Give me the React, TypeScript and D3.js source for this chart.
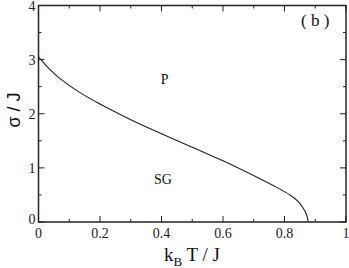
import React, { useEffect, useRef } from "react";
import * as d3 from "d3";

// phase boundary sigma_c(T)
const temps = [0, 0.035, 0.07, 0.135, 0.2, 0.3, 0.4, 0.5, 0.6, 0.72, 0.775, 0.818, 0.845, 0.861, 0.872, 0.877];
const sigmas = [3.05, 2.83, 2.65, 2.39, 2.18, 1.89, 1.63, 1.38, 1.13, 0.8, 0.64, 0.5, 0.376, 0.254, 0.13, 0];

const xTicks = [0, 0.2, 0.4, 0.6, 0.8, 1];
const xMinor = [0.1, 0.3, 0.5, 0.7, 0.9];
const yTicks = [0, 1, 2, 3, 4];
const yMinor = [0.5, 1.5, 2.5, 3.5];

const W = 349;
const H = 268;
const margin = { top: 5.5, right: 3, bottom: 46, left: 38.5 };
const serif = "serif";

export default function App() {
  const ref = useRef<SVGSVGElement>(null);

  useEffect(() => {
    if (!ref.current) return;
    const svg = d3.select(ref.current);
    svg.selectAll("*").remove();

    const x = d3.scaleLinear().domain([0, 1]).range([margin.left, W - margin.right]);
    const y = d3.scaleLinear().domain([0, 4]).range([H - margin.bottom, margin.top]);
    const stroke = "#222";

    const g = svg.append("g");

    // ticks on all four sides, pointing inward
    const tick = (pos: number, len: number, side: string) => {
      const l = g.append("line").attr("stroke", stroke).attr("stroke-width", 1);
      if (side === "b") l.attr("x1", x(pos)).attr("x2", x(pos)).attr("y1", y(0)).attr("y2", y(0) - len);
      if (side === "t") l.attr("x1", x(pos)).attr("x2", x(pos)).attr("y1", y(4)).attr("y2", y(4) + len);
      if (side === "l") l.attr("y1", y(pos)).attr("y2", y(pos)).attr("x1", x(0)).attr("x2", x(0) + len);
      if (side === "r") l.attr("y1", y(pos)).attr("y2", y(pos)).attr("x1", x(1)).attr("x2", x(1) - len);
    };
    xTicks.forEach((t) => { tick(t, 6, "b"); tick(t, 6, "t"); });
    xMinor.forEach((t) => { tick(t, 3, "b"); tick(t, 3, "t"); });
    yTicks.forEach((t) => { tick(t, 6, "l"); tick(t, 6, "r"); });
    yMinor.forEach((t) => { tick(t, 3, "l"); tick(t, 3, "r"); });

    g.append("rect")
      .attr("x", x(0))
      .attr("y", y(4))
      .attr("width", x(1) - x(0))
      .attr("height", y(0) - y(4))
      .attr("fill", "none")
      .attr("stroke", stroke)
      .attr("stroke-width", 1.5);

    g.selectAll(".xl")
      .data(xTicks)
      .enter()
      .append("text")
      .attr("x", (d) => x(d))
      .attr("y", y(0) + 16)
      .attr("text-anchor", "middle")
      .style("font-family", serif)
      .style("font-size", "14px")
      .attr("fill", "#222")
      .text((d) => (d === 0 || d === 1 ? String(d) : d.toFixed(1)));

    g.selectAll(".yl")
      .data(yTicks)
      .enter()
      .append("text")
      .attr("x", x(0) - 3)
      .attr("y", (d) => y(d) + (d === 0 ? 2 : 5))
      .attr("text-anchor", "end")
      .style("font-family", serif)
      .style("font-size", "14px")
      .attr("fill", "#222")
      .text((d) => String(d));

    const pts: [number, number][] = temps.map((t, i) => [t, sigmas[i]]);
    const line = d3
      .line<[number, number]>()
      .x((d) => x(d[0]))
      .y((d) => y(d[1]))
      .curve(d3.curveCatmullRom.alpha(0.5));
    g.append("path")
      .attr("d", line(pts) as string)
      .attr("fill", "none")
      .attr("stroke", "#222")
      .attr("stroke-width", 1.1);

    const label = (tx: number, ty: number, s: string, size: number) =>
      g.append("text")
        .attr("x", tx)
        .attr("y", ty)
        .attr("text-anchor", "middle")
        .style("font-family", serif)
        .style("font-size", size + "px")
        .attr("fill", "#111")
        .text(s);

    label(x(0.41), y(2.55), "P", 14);
    label(x(0.405), y(0.7), "SG", 14);
    label(x(0.9), y(3.62), "( b )", 17);

    // axis titles
    const xt = g.append("text")
      .attr("x", 192)
      .attr("y", 261)
      .attr("text-anchor", "middle")
      .style("font-family", serif)
      .style("font-size", "19px")
      .attr("fill", "#111");
    xt.append("tspan").text("k");
    xt.append("tspan").style("font-size", "13px").attr("dy", 5).text("B");
    xt.append("tspan").attr("dy", -5).text(" T / J");

    g.append("text")
      .attr("transform", "translate(20, 110) rotate(-90)")
      .attr("text-anchor", "middle")
      .style("font-family", "Liberation Sans, Arial, sans-serif")
      .style("font-size", "18px")
      .attr("fill", "#111")
      .text("σ / J");
  }, []);

  return (
    <svg
      ref={ref}
      width={W}
      height={H}
      style={{ position: "absolute", left: 0, top: 0, background: "white" }}
    />
  );
}
